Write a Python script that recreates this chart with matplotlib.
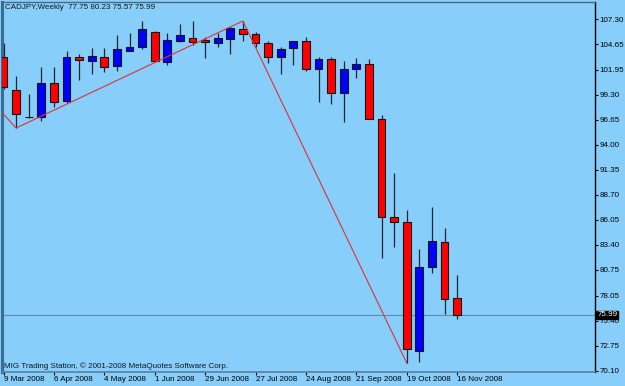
import matplotlib
matplotlib.use('Agg')
import matplotlib.pyplot as plt

# ---- data (weekly CADJPY, 9 Mar 2008 .. 16 Nov 2008) ----
opens  = [103.25, 99.79, 96.93, 96.93, 100.53, 98.63, 103.28, 102.86, 103.28, 102.33,
          103.92, 104.34, 105.92, 102.75, 104.97, 105.29, 105.08, 104.76, 105.18, 106.24,
          105.71, 104.76, 103.28, 104.23, 104.97, 102.01, 103.07, 99.47, 102.01, 102.54,
          96.72, 86.36, 85.83, 72.18, 81.07, 83.71, 77.75]
highs  = [104.76, 101.27, 99.37, 102.22, 102.22, 103.92, 103.60, 104.23, 104.23, 105.61,
          105.82, 107.09, 106.03, 105.82, 106.77, 107.09, 105.40, 105.82, 106.45, 107.09,
          105.92, 104.97, 104.34, 104.97, 105.40, 103.28, 103.28, 102.86, 103.17, 103.07,
          97.15, 91.01, 87.10, 82.97, 87.41, 85.19, 80.23]
lows   = [99.90, 95.77, 96.83, 96.51, 97.99, 98.41, 100.85, 101.48, 101.69, 101.80,
          103.92, 104.13, 102.75, 102.43, 104.87, 104.55, 103.17, 104.34, 103.60, 104.97,
          104.34, 102.65, 101.48, 102.43, 101.80, 98.52, 98.31, 96.41, 101.06, 96.72,
          82.02, 83.18, 70.91, 71.02, 80.43, 76.10, 75.57]
closes = [100.08, 97.25, 96.93, 100.53, 98.52, 103.28, 102.96, 103.39, 102.22, 104.13,
          104.34, 106.24, 102.86, 105.08, 105.61, 104.87, 104.87, 105.29, 106.35, 105.71,
          104.76, 103.28, 104.13, 104.97, 102.01, 103.07, 99.47, 102.01, 102.54, 96.72,
          86.36, 85.83, 72.39, 81.07, 83.82, 77.68, 75.99]

date_tick_idx = [0, 4, 8, 12, 16, 20, 24, 28, 32, 36]
date_labels = ['9 Mar 2008', '6 Apr 2008', '4 May 2008', '1 Jun 2008', '29 Jun 2008',
               '27 Jul 2008', '24 Aug 2008', '21 Sep 2008', '19 Oct 2008', '16 Nov 2008']
price_labels = ['107.30', '104.65', '101.95', '99.30', '96.65', '94.00', '91.35', '88.70',
                '86.05', '83.40', '80.75', '78.05', '75.40', '72.75', '70.10']

zigzag_idx = [-1, 1, 19, 32]
zigzag_price = [98.70, 95.77, 107.09, 70.91]

last_price = 75.99
title_text = 'CADJPY,Weekly  77.75 80.23 75.57 75.99'
footer_text = 'MIG Trading Station, \u00a9 2001-2008 MetaQuotes Software Corp.'

# ---- style ----
BG = '#87CEFA'
FONT = 'Liberation Sans'
FS = 5.8

W, H = 625, 386
fig = plt.figure(figsize=(W / 100, H / 100), dpi=100)
fig.patch.set_facecolor(BG)
ax = fig.add_axes([2 / W, 14 / H, 593 / W, 370 / H])
ax.set_facecolor(BG)
ax.set_xlim(-0.12, 46.94)
ax.set_ylim(69.96, 109.10)

# candles
for i, (o, h, l, c) in enumerate(zip(opens, highs, lows, closes)):
    ax.vlines(i, l, h, color='#1c2630', lw=0.9, zorder=2)
    fc = '#0000FF' if c > o else '#FF0000'
    ax.bar(i, abs(c - o), bottom=min(o, c), width=0.62, color=fc,
           edgecolor='#151515', linewidth=0.8, zorder=3)

# zigzag
ax.plot(zigzag_idx, zigzag_price, color='#E0303C', lw=0.8, zorder=4)

# last price line
ax.axhline(last_price, color='#5E8CB2', lw=0.8, zorder=1)

# spines
ax.spines['left'].set_color('#3b6d94')
ax.spines['left'].set_linewidth(2.2)
ax.spines['top'].set_color('#4d6678')
ax.spines['top'].set_linewidth(1.0)
ax.spines['right'].set_color('#000000')
ax.spines['right'].set_linewidth(1.0)
ax.spines['bottom'].set_color('#5a7f9c')
ax.spines['bottom'].set_linewidth(1.2)

# y axis on right
ax.yaxis.tick_right()
ax.set_yticks([float(p) for p in price_labels])
ax.set_yticklabels(price_labels)
ax.tick_params(axis='y', direction='out', length=2.2, width=0.8, pad=1.2,
               labelsize=FS, colors='#000000', left=False)
for t in ax.get_yticklabels():
    t.set_fontfamily(FONT)

# x axis
ax.set_xticks(date_tick_idx)
ax.set_xticklabels(date_labels)
ax.tick_params(axis='x', direction='out', length=2.2, width=0.8, pad=0.8,
               labelsize=FS, colors='#000000')
for t in ax.get_xticklabels():
    t.set_fontfamily(FONT)
    t.set_horizontalalignment('left')

# last price box
ax.text(1.004, last_price, f'{last_price:.2f}', transform=ax.get_yaxis_transform(),
        ha='left', va='center', fontsize=FS, color='white', family=FONT,
        bbox=dict(boxstyle='square,pad=0.12', fc='black', ec='black'),
        clip_on=False, zorder=10)

# texts
fig.text(5 / W, 1 - 7.5 / H, title_text, ha='left', va='center', fontsize=FS,
         family=FONT, color='#101820', zorder=10)
fig.text(4 / W, 1 - 366 / H, footer_text, ha='left', va='center', fontsize=FS,
         family=FONT, color='#101820', zorder=10)

fig.savefig('out.png', dpi=100, facecolor=BG)
